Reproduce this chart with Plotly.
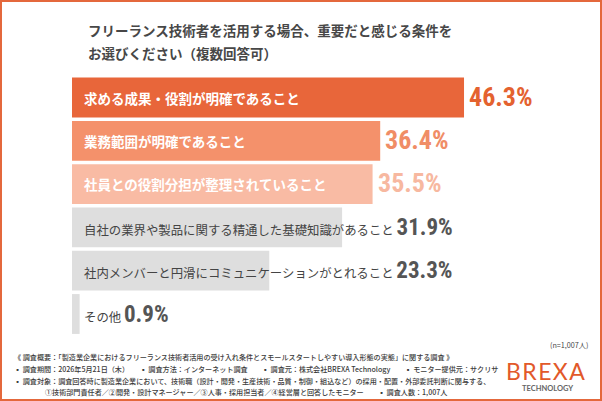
import plotly.graph_objects as go

categories = [
    "求める成果・役割が明確であること",
    "業務範囲が明確であること",
    "社員との役割分担が整理されていること",
    "自社の業界や製品に関する精通した基礎知識があること",
    "社内メンバーと円滑にコミュニケーションがとれること",
    "その他",
]
values = [46.3, 36.4, 35.5, 31.9, 23.3, 0.9]
bar_colors = ["#E8663A", "#F4916B", "#F9BBA4", "#DEDEDE", "#DEDEDE", "#DEDEDE"]
value_colors = ["#E4622F", "#F08D66", "#F7B8A0", "#555555", "#555555", "#555555"]
highlighted = [True, True, True, False, False, False]

title_lines = [
    "フリーランス技術者を活用する場合、重要だと感じる条件を",
    "お選びください（複数回答可）",
]
footer_lines = [
    "《 調査概要：「製造業企業におけるフリーランス技術者活用の受け入れ条件とスモールスタートしやすい導入形態の実態」に関する調査 》",
    "▪ 調査期間：2026年5月21日（木）　　▪ 調査方法：インターネット調査　　▪ 調査元：株式会社BREXA Technology　　▪ モニター提供元：サクリサ",
    "▪ 調査対象：調査回答時に製造業企業において、技術職（設計・開発・生産技術・品質・制御・組込など）の採用・配置・外部委託判断に関与する、",
    "①技術部門責任者／②開発・設計マネージャー／③人事・採用担当者／④経営層と回答したモニター　　▪ 調査人数：1,007人",
]
sample_note = "(n=1,007人)"

W, H = 602, 401
JP = "Noto Sans CJK JP"
NUM = "Liberation Sans Narrow, Roboto Condensed, DejaVu Sans Condensed, sans-serif"

ys = list(range(len(categories)))
fig = go.Figure()
fig.add_trace(go.Bar(
    x=values, y=ys, orientation="h", width=0.92,
    marker=dict(color=bar_colors, line=dict(width=0)),
    hoverinfo="skip",
))

px_per_pct = 8.467
x_left = 72
y0_px, step_px = 97.5, 43.3

annotations = []
for i, (cat, v) in enumerate(zip(categories, values)):
    if highlighted[i]:
        annotations.append(dict(
            x=0, y=i, xref="x", yref="y", text=cat, showarrow=False,
            xanchor="left", yanchor="middle", xshift=10,
            font=dict(family=JP, size=13.5, color="white", weight=700),
        ))
        annotations.append(dict(
            x=v, y=i, xref="x", yref="y", text=f"{v:.1f}%", showarrow=False,
            xanchor="left", yanchor="middle", xshift=3, yshift=1,
            font=dict(family=NUM, size=26, color=value_colors[i], weight=700),
        ))
    else:
        txt = (f"{cat} <span style=\"font-family:'Liberation Sans Narrow', 'Roboto Condensed', sans-serif;"
               f"font-size:23px;font-weight:bold;fill:{value_colors[i]}\">{v:.1f}%</span>")
        annotations.append(dict(
            x=0, y=i, xref="x", yref="y", text=txt, showarrow=False,
            xanchor="left", yanchor="middle", xshift=10,
            font=dict(family=JP, size=12.4, color="#444444"),
        ))

# title
for k, (line, py) in enumerate(zip(title_lines, [30, 53])):
    annotations.append(dict(
        x=86 / W, y=1 - py / H, xref="paper", yref="paper", text=line,
        showarrow=False, xanchor="left", yanchor="middle",
        font=dict(family=JP, size=13.5, color="#474747", weight=700),
    ))

# footer
for line, px, py in zip(footer_lines, [12, 12, 12, 43], [357, 369, 381, 392]):
    annotations.append(dict(
        x=px / W, y=1 - py / H, xref="paper", yref="paper", text=line,
        showarrow=False, xanchor="left", yanchor="middle",
        font=dict(family=JP, size=7.1, color="#3c3c3c", weight=500),
    ))
annotations.append(dict(
    x=590 / W, y=1 - 345 / H, xref="paper", yref="paper", text=sample_note,
    showarrow=False, xanchor="right", yanchor="middle",
    font=dict(family=JP, size=7.2, color="#444444"),
))
# logo
annotations.append(dict(
    x=545 / W, y=1 - 371 / H, xref="paper", yref="paper",
    text="B\u200aR\u200aE\u200aX\u200aA",
    showarrow=False, xanchor="center", yanchor="middle",
    font=dict(family="Lato", size=23, color="#E2592A", weight=400),
))
annotations.append(dict(
    x=547 / W, y=1 - 388.5 / H, xref="paper", yref="paper", text="TECHNOLOGY",
    showarrow=False, xanchor="center", yanchor="middle",
    font=dict(family="Lato", size=7.5, color="#666666", weight=700),
))

fig.update_layout(
    width=W, height=H, margin=dict(l=0, r=0, t=0, b=0),
    paper_bgcolor="white", plot_bgcolor="white", showlegend=False,
    xaxis=dict(domain=[x_left / W, 1], range=[0, (W - x_left) / px_per_pct],
               visible=False, fixedrange=True),
    yaxis=dict(range=[(H - y0_px) / step_px, -y0_px / step_px],
               visible=False, fixedrange=True),
    annotations=annotations,
    shapes=[dict(type="rect", xref="paper", yref="paper", x0=0, y0=0, x1=1, y1=1,
                 line=dict(color="#E4683C", width=4), layer="above")],
)

fig.write_html("out.html", config={"displayModeBar": False})
